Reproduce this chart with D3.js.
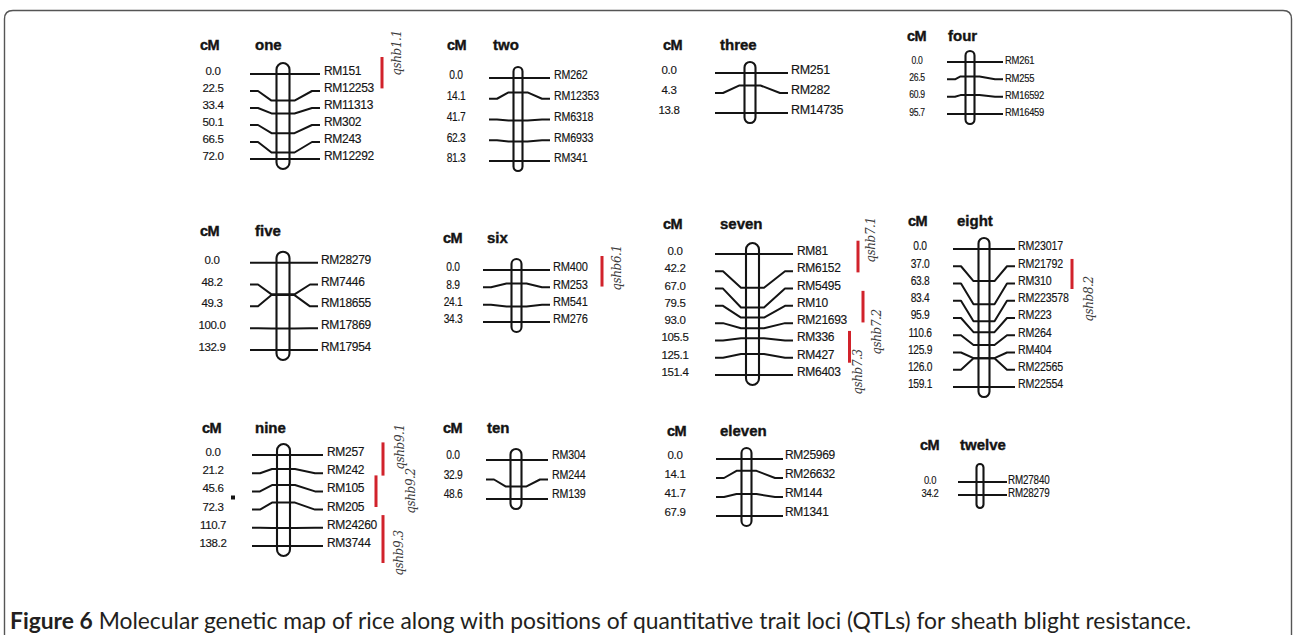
<!DOCTYPE html>
<html><head><meta charset="utf-8">
<script src="https://cdn.jsdelivr.net/npm/d3@7"></script>
<style>body{margin:0;background:#fff} svg{display:block}</style>
</head><body><svg id="c" width="1296" height="635"></svg>
<script>
// ---------------- DATA ----------------
const chromNames = ["one","two","three","four","five","six","seven","eight","nine","ten","eleven","twelve"];
const markerNames = [
 ["RM151","RM12253","RM11313","RM302","RM243","RM12292"],
 ["RM262","RM12353","RM6318","RM6933","RM341"],
 ["RM251","RM282","RM14735"],
 ["RM261","RM255","RM16592","RM16459"],
 ["RM28279","RM7446","RM18655","RM17869","RM17954"],
 ["RM400","RM253","RM541","RM276"],
 ["RM81","RM6152","RM5495","RM10","RM21693","RM336","RM427","RM6403"],
 ["RM23017","RM21792","RM310","RM223578","RM223","RM264","RM404","RM22565","RM22554"],
 ["RM257","RM242","RM105","RM205","RM24260","RM3744"],
 ["RM304","RM244","RM139"],
 ["RM25969","RM26632","RM144","RM1341"],
 ["RM27840","RM28279"]
];
const positionsCM = [
 [0.0,22.5,33.4,50.1,66.5,72.0],
 [0.0,14.1,41.7,62.3,81.3],
 [0.0,4.3,13.8],
 [0.0,26.5,60.9,95.7],
 [0.0,48.2,49.3,100.0,132.9],
 [0.0,8.9,24.1,34.3],
 [0.0,42.2,67.0,79.5,93.0,105.5,125.1,151.4],
 [0.0,37.0,63.8,83.4,95.9,110.6,125.9,126.0,159.1],
 [0.0,21.2,45.6,72.3,110.7,138.2],
 [0.0,32.9,48.6],
 [0.0,14.1,41.7,67.9],
 [0.0,34.2]
];
const qtlNames = ["qshb1.1","qshb6.1","qshb7.1","qshb7.2","qshb7.3","qshb8.2","qshb9.1","qshb9.2","qshb9.3"];
const qtlChrom = [0,5,6,6,6,7,8,8,8];
const qtlFrom  = ["RM151","RM400","RM81","RM10","RM336","RM21792","RM257","RM105","RM24260"];
const qtlTo    = ["RM12253","RM253","RM6152","RM21693","RM427","RM310","RM242","RM205","RM3744"];
const unitLabel = "cM";
const captionBold = "Figure 6";
const captionText = " Molecular genetic map of rice along with positions of quantitative trait loci (QTLs) for sheath blight resistance.";

// ---------------- LAYOUT ----------------
const F = "Liberation Sans, Arial, sans-serif";
const layout = [
 {cx:283,  w:13, xL:250, xR:320,  labX:324,  numX:213, y0:74,    y1:159,   hdrY:45,  cmX:200, nameX:255, lfs:12,  ls:-0.3, nfs:11.5, sx:1,    dy:-3},
 {cx:518,  w:9,  xL:489, xR:550,  labX:554,  numX:456, y0:78,    y1:161,   hdrY:45,  cmX:447, nameX:493, lfs:13,  ls:-0.2, nfs:12.5, sx:0.82, dy:-3},
 {cx:750,  w:11, xL:715, xR:788,  labX:791,  numX:669, y0:73,    y1:113,   hdrY:45,  cmX:663, nameX:720, lfs:12.5,ls:-0.3, nfs:11.5, sx:1,    dy:-3},
 {cx:970,  w:9,  xL:947, xR:1003, labX:1005, numX:917, y0:62,    y1:114,   hdrY:36,  cmX:907, nameX:948, lfs:11.5,ls:-0.3, nfs:10.5, sx:0.82, dy:-2},
 {cx:283,  w:13, xL:250, xR:318,  labX:321,  numX:212, y0:262.7, y1:350,   hdrY:231, cmX:200, nameX:255, lfs:12,  ls:-0.3, nfs:11.5, sx:1,    dy:-3},
 {cx:516.5,w:10, xL:483, xR:550,  labX:553,  numX:453, y0:270,   y1:322,   hdrY:238, cmX:443, nameX:487, lfs:13.5,ls:-0.2, nfs:12.5, sx:0.82, dy:-3},
 {cx:752.5,w:13, xL:715, xR:793,  labX:797,  numX:675, y0:254,   y1:375,   hdrY:224, cmX:663, nameX:720, lfs:12,  ls:-0.3, nfs:11.5, sx:1,    dy:-3},
 {cx:984,  w:11, xL:953, xR:1015, labX:1018, numX:920, y0:249,   y1:387,   hdrY:221, cmX:908, nameX:957, lfs:13,  ls:-0.2, nfs:12.5, sx:0.82, dy:-3},
 {cx:283.5,w:13, xL:252, xR:323,  labX:327,  numX:213, y0:455,   y1:546,   hdrY:428, cmX:202, nameX:255, lfs:12,  ls:-0.3, nfs:11.5, sx:1,    dy:-3},
 {cx:516,  w:11, xL:486, xR:548,  labX:552,  numX:453, y0:460,   y1:499,   hdrY:428, cmX:443, nameX:487, lfs:13,  ls:-0.2, nfs:12.5, sx:0.82, dy:-5},
 {cx:746.5,w:10, xL:716, xR:783,  labX:785,  numX:675, y0:459,   y1:516,   hdrY:431, cmX:667, nameX:720, lfs:12,  ls:-0.3, nfs:11.5, sx:1,    dy:-4},
 {cx:980,  w:7,  xL:958, xR:1007, labX:1008, numX:930, y0:482,   y1:495,   hdrY:445, cmX:920, nameX:960, lfs:12,  ls:-0.2, nfs:11.5, sx:0.82, dy:-2.5, capT:18, capB:13}
];
const qtlLayout = [
 {x:382,  dt:-17,  db:-2.6, tx:397,  ty:53},
 {x:602,  dt:-14,  db:-0.8, tx:617,  ty:268},
 {x:858,  dt:-13.3,db:1.1,  tx:871,  ty:240},
 {x:863,  dt:-15,  db:-0.7, tx:877,  ty:332},
 {x:849.5,dt:-9.5, db:5,    tx:858,  ty:372},
 {x:1072, dt:-7.3, db:5.5,  tx:1089, ty:299},
 {x:383,  dt:-12.6,db:2.4,  tx:400,  ty:447},
 {x:376,  dt:-16,  db:-2.6, tx:411,  ty:491},
 {x:383,  dt:-12.7,db:17,   tx:399,  ty:553}
];

// ---------------- DRAW ----------------
const svg = d3.select("#c");
const ink = "#141414";

// frame
svg.append("path")
  .attr("d", "M4.5,640 V19 Q4.5,10.5 13,10.5 H1283 Q1291.5,10.5 1291.5,19 V640")
  .attr("fill","none").attr("stroke","#555").attr("stroke-width",1.4);

const fmt = d3.format(".1f");
const scales = [];

chromNames.forEach((name, ci) => {
  const L = layout[ci];
  const names = markerNames[ci], pos = positionsCM[ci];
  const yLab = d3.scalePoint().domain(names).range([L.y0, L.y1]);
  const yChr = d3.scaleLinear().domain([0, d3.max(pos)]).range([L.y0, L.y1]);
  scales[ci] = {yLab, yChr};
  const g = svg.append("g");

  // headers
  g.append("text").attr("x", L.cmX).attr("y", L.hdrY + 5)
    .attr("font-family", F).attr("font-weight", 700).attr("font-size", 14.5)
    .attr("fill", ink).attr("stroke", ink).attr("stroke-width", 0.4)
    .attr("letter-spacing", -0.5).text(unitLabel);
  g.append("text").attr("x", L.nameX).attr("y", L.hdrY + 5)
    .attr("font-family", F).attr("font-weight", 700).attr("font-size", 15)
    .attr("fill", ink).attr("stroke", ink).attr("stroke-width", 0.4)
    .text(name);

  // marker connector lines
  const half = L.w / 2;
  g.selectAll("path.m").data(names).join("path")
    .attr("d", (d, i) => {
      const yl = yLab(d), yc = yChr(pos[i]);
      return `M${L.xL},${yl}H${L.xL + 8}L${L.cx - half - 5},${yc}H${L.cx + half + 5}L${L.xR - 8},${yl}H${L.xR}`;
    })
    .attr("fill", "none").attr("stroke", ink).attr("stroke-width", 2)
    .attr("stroke-linejoin", "round");

  // chromosome body
  const capT = L.capT || 11, capB = L.capB || 10;
  g.append("rect").attr("x", L.cx - half).attr("width", L.w)
    .attr("y", L.y0 - capT).attr("height", (L.y1 + capB) - (L.y0 - capT))
    .attr("rx", half).attr("ry", half)
    .attr("fill", "none").attr("stroke", ink).attr("stroke-width", 2.1);

  // marker names
  g.selectAll("text.lab").data(names).join("text")
    .attr("transform", d => `translate(${L.labX},${yLab(d) + L.dy}) scale(${L.sx},1)`)
    .attr("dominant-baseline", "central")
    .attr("font-family", F).attr("font-size", L.lfs)
    .attr("letter-spacing", L.ls)
    .attr("fill", ink).attr("stroke", ink).attr("stroke-width", 0.15)
    .text(d => d);

  // positions (cM)
  g.selectAll("text.num").data(pos).join("text")
    .attr("transform", (d, i) => `translate(${L.numX},${yLab(names[i]) + L.dy}) scale(${L.sx},1)`)
    .attr("dominant-baseline", "central").attr("text-anchor", "middle")
    .attr("font-family", F).attr("font-size", L.nfs)
    .attr("letter-spacing", -0.4)
    .attr("fill", ink).attr("stroke", ink).attr("stroke-width", 0.15)
    .text(d => fmt(d));
});

// stray square mark in chromosome nine
{
  const L = layout[8], s = scales[8].yLab;
  const ym = (s(markerNames[8][2]) + s(markerNames[8][3])) / 2 + L.dy;
  svg.append("rect").attr("x", L.numX + 18).attr("y", ym - 2).attr("width", 4).attr("height", 4).attr("fill", ink);
}

// QTL bars and labels
qtlNames.forEach((q, k) => {
  const Q = qtlLayout[k], s = scales[qtlChrom[k]].yLab;
  const top = s(qtlFrom[k]) + Q.dt, bot = s(qtlTo[k]) + Q.db;
  svg.append("rect").attr("x", Q.x - 1.5).attr("y", top).attr("width", 3).attr("height", bot - top)
    .attr("fill", "#d1222b");
  svg.append("text").attr("transform", `translate(${Q.tx},${Q.ty}) rotate(-90)`)
    .attr("text-anchor", "middle").attr("dominant-baseline", "central")
    .attr("font-family", "DejaVu Serif").attr("font-style", "italic").attr("font-size", 12)
    .attr("letter-spacing", -0.4)
    .attr("fill", "#3a3a3a").text(q);
});

// caption
const cap = svg.append("text").attr("x", 10).attr("y", 629)
  .attr("font-family", "Lato, 'Open Sans', sans-serif").attr("font-size", 16).attr("fill", "#231f20");
cap.append("tspan").attr("font-weight", 700).text(captionBold);
cap.append("tspan").text(captionText);
const target = 1192 - 10;
const wNow = cap.node().getComputedTextLength();
cap.attr("font-size", 16 * target / wNow);
</script></body></html>
